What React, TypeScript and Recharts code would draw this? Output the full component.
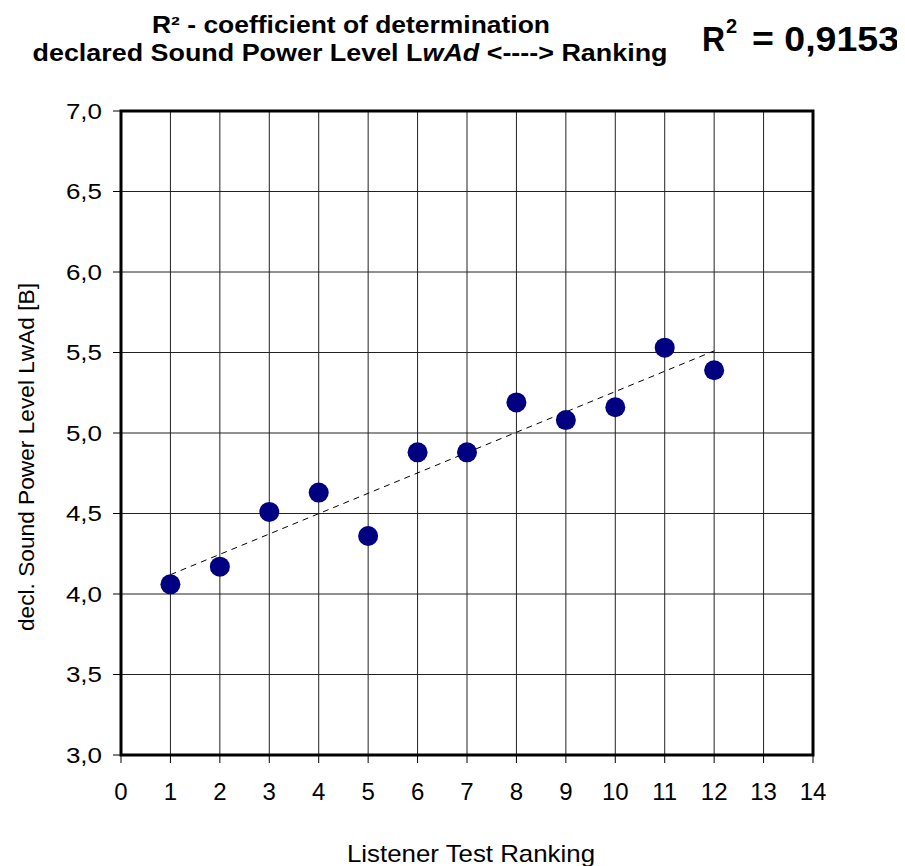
import { ScatterChart, Scatter, XAxis, YAxis, CartesianGrid, ReferenceArea } from 'recharts';

// listener test ranking positions and declared LwAd values [B]
const rankings = [1, 2, 3, 4, 5, 6, 7, 8, 9, 10, 11, 12];
const lwad = [4.06, 4.17, 4.51, 4.63, 4.36, 4.88, 4.88, 5.19, 5.08, 5.16, 5.53, 5.39];

// linear trendline endpoints
const trendX = [1, 12];
const trendY = [4.12, 5.51];

const xTicks = [0, 1, 2, 3, 4, 5, 6, 7, 8, 9, 10, 11, 12, 13, 14];
const yTicks = [3, 3.5, 4, 4.5, 5, 5.5, 6, 6.5, 7];

const FONT = '"Liberation Sans", Arial, sans-serif';

const points = rankings.map((x, i) => ({ x, y: lwad[i] }));
const trend = trendX.map((x, i) => ({ x, y: trendY[i] }));

const fmt = (v: number) => v.toFixed(1).replace('.', ',');

// y tick labels in the original are drawn a bit wider than normal
function YTick(props: any) {
  const { x, y, payload } = props;
  return (
    <text
      transform={`translate(${x},${y}) scale(1.18,1)`}
      textAnchor="end"
      dy="0.36em"
      fontSize={22}
      fontFamily={FONT}
      fill="#000"
    >
      {fmt(payload.value)}
    </text>
  );
}

export default function App() {
  return (
    <div style={{ position: 'relative', width: 897, height: 858 }}>
      <ScatterChart width={897} height={858} margin={{ top: 103, right: 92, left: 53, bottom: 71 }}>
        <CartesianGrid stroke="#222" strokeWidth={1} />
        <XAxis
          type="number"
          dataKey="x"
          domain={[0, 14]}
          ticks={xTicks}
          interval={0}
          height={40}
          tickSize={8}
          tickMargin={20}
          axisLine={false}
          tickLine={{ stroke: '#000' }}
          tick={{ fill: '#000', fontSize: 24, fontFamily: FONT }}
        />
        <YAxis
          type="number"
          dataKey="y"
          domain={[3, 7]}
          ticks={yTicks}
          interval={0}
          width={60}
          tickSize={8}
          tickMargin={11}
          axisLine={false}
          tickLine={{ stroke: '#000' }}
          tick={<YTick />}
        />
        <ReferenceArea x1={0} x2={14} y1={3} y2={7} fill="none" fillOpacity={0} stroke="#000" strokeWidth={3} />
        <Scatter
          data={trend}
          line={{ stroke: '#000', strokeWidth: 1, strokeDasharray: '6 5' }}
          shape={() => null}
          isAnimationActive={false}
        />
        <Scatter
          data={points}
          fill="#000080"
          isAnimationActive={false}
          shape={(p: any) => <circle cx={p.cx} cy={p.cy} r={10} fill="#000080" />}
        />
      </ScatterChart>
      <svg
        width={897}
        height={858}
        style={{ position: 'absolute', left: 0, top: 0, pointerEvents: 'none', overflow: 'visible' }}
        fontFamily={FONT}
      >
        <text x={343} y={25} textAnchor="middle" fontSize={23} fontWeight="bold" textLength={398} lengthAdjust="spacingAndGlyphs">
          R² - coefficient of determination
        </text>
        <text x={342} y={53} textAnchor="middle" fontSize={23} fontWeight="bold" textLength={635} lengthAdjust="spacingAndGlyphs">
          declared Sound Power Level L<tspan fontStyle="italic">wAd</tspan> &lt;----&gt; Ranking
        </text>
        <text x={694} y={43} fontSize={35} fontWeight="bold" textLength={23} lengthAdjust="spacingAndGlyphs">R</text>
        <text x={718} y={25} fontSize={20} fontWeight="bold">2</text>
        <text x={744} y={43} fontSize={35} fontWeight="bold" textLength={147} lengthAdjust="spacingAndGlyphs">
          = 0,9153
        </text>
        <text x={463} y={854} textAnchor="middle" fontSize={24} textLength={248} lengthAdjust="spacingAndGlyphs">
          Listener Test Ranking
        </text>
        <text
          transform="translate(26,449) rotate(-90)"
          textAnchor="middle"
          fontSize={22}
          textLength={348}
          lengthAdjust="spacingAndGlyphs"
        >
          decl. Sound Power Level LwAd [B]
        </text>
      </svg>
    </div>
  );
}
